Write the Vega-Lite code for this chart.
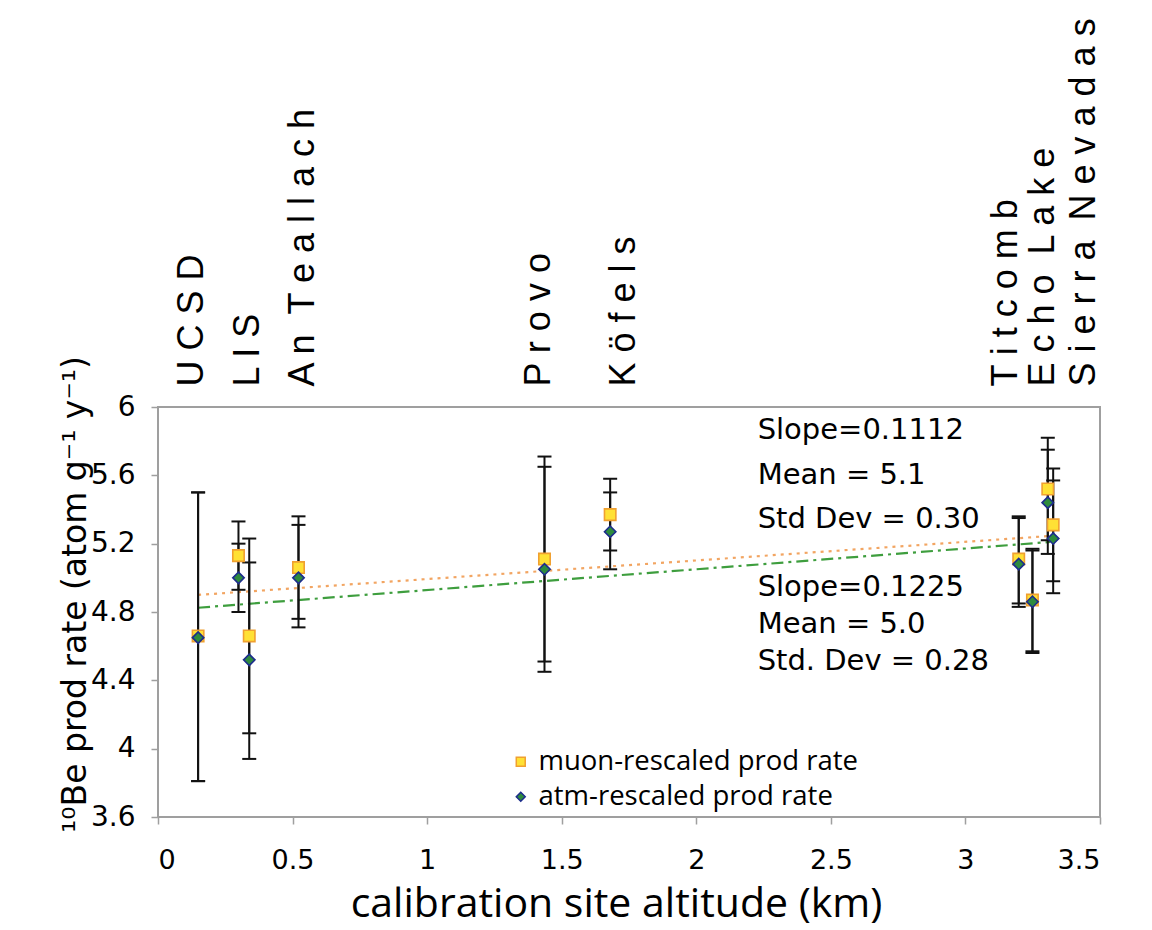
{
  "$schema": "https://vega.github.io/schema/vega-lite/v6.json",
  "width": 942,
  "height": 410,
  "autosize": "none",
  "padding": {"left": 158, "top": 407, "right": 52, "bottom": 113},
  "background": "white",
  "config": {
    "view": {"stroke": "#9f9f9f", "strokeWidth": 2},
    "axis": {
      "domain": false,
      "grid": false,
      "tickColor": "#9f9f9f",
      "tickWidth": 1.5,
      "tickSize": 7,
      "labelColor": "black",
      "titleColor": "black",
      "labelFont": "DejaVu Sans",
      "labelFontSize": 27,
      "titleFontWeight": "normal"
    },
    "legend": {
      "orient": "none",
      "legendX": 349,
      "legendY": 341,
      "labelFontSize": 27.5,
      "labelFont": "Open Sans",
      "labelColor": "black",
      "labelLimit": 0,
      "symbolSize": 80,
      "labelOffset": 4,
      "rowPadding": 6,
      "symbolStrokeWidth": 1.5
    }
  },
  "datasets": {
    "points": [
      {"site": "UCSD", "alt": 0.149, "series": "muon-rescaled prod rate", "value": 4.66, "lo": 3.81, "hi": 5.5},
      {"site": "LIS", "alt": 0.299, "series": "muon-rescaled prod rate", "value": 5.13, "lo": 4.93, "hi": 5.33},
      {"site": "LIS", "alt": 0.339, "series": "muon-rescaled prod rate", "value": 4.66, "lo": 4.09, "hi": 5.23},
      {"site": "An Teallach", "alt": 0.522, "series": "muon-rescaled prod rate", "value": 5.06, "lo": 4.76, "hi": 5.36},
      {"site": "Provo", "alt": 1.436, "series": "muon-rescaled prod rate", "value": 5.11, "lo": 4.51, "hi": 5.71},
      {"site": "Köfels", "alt": 1.68, "series": "muon-rescaled prod rate", "value": 5.37, "lo": 5.16, "hi": 5.58},
      {"site": "Titcomb", "alt": 3.198, "series": "muon-rescaled prod rate", "value": 5.11, "lo": 4.85, "hi": 5.36},
      {"site": "Echo Lake", "alt": 3.249, "series": "muon-rescaled prod rate", "value": 4.87, "lo": 4.57, "hi": 5.17},
      {"site": "Sierra Nevadas", "alt": 3.306, "series": "muon-rescaled prod rate", "value": 5.52, "lo": 5.22, "hi": 5.82},
      {"site": "Sierra Nevadas", "alt": 3.326, "series": "muon-rescaled prod rate", "value": 5.31, "lo": 4.98, "hi": 5.64},
      {"site": "UCSD", "alt": 0.149, "series": "atm-rescaled prod rate", "value": 4.65, "lo": 3.81, "hi": 5.5},
      {"site": "LIS", "alt": 0.299, "series": "atm-rescaled prod rate", "value": 5.0, "lo": 4.8, "hi": 5.2},
      {"site": "LIS", "alt": 0.339, "series": "atm-rescaled prod rate", "value": 4.52, "lo": 3.94, "hi": 5.09},
      {"site": "An Teallach", "alt": 0.522, "series": "atm-rescaled prod rate", "value": 5.0, "lo": 4.71, "hi": 5.31},
      {"site": "Provo", "alt": 1.436, "series": "atm-rescaled prod rate", "value": 5.05, "lo": 4.45, "hi": 5.65},
      {"site": "Köfels", "alt": 1.68, "series": "atm-rescaled prod rate", "value": 5.27, "lo": 5.05, "hi": 5.5},
      {"site": "Titcomb", "alt": 3.198, "series": "atm-rescaled prod rate", "value": 5.08, "lo": 4.83, "hi": 5.35},
      {"site": "Echo Lake", "alt": 3.249, "series": "atm-rescaled prod rate", "value": 4.86, "lo": 4.56, "hi": 5.16},
      {"site": "Sierra Nevadas", "alt": 3.306, "series": "atm-rescaled prod rate", "value": 5.44, "lo": 5.14, "hi": 5.75},
      {"site": "Sierra Nevadas", "alt": 3.326, "series": "atm-rescaled prod rate", "value": 5.23, "lo": 4.91, "hi": 5.57}
    ],
    "fits": [
      {"fit": "muon", "alt": 0.149, "value": 4.9},
      {"fit": "muon", "alt": 3.315, "value": 5.245},
      {"fit": "atm", "alt": 0.149, "value": 4.825},
      {"fit": "atm", "alt": 3.315, "value": 5.21}
    ],
    "sites": [
      {"label": "U C S D", "alt": 0.125},
      {"label": "L I S", "alt": 0.336},
      {"label": "A n \u00a0T e a l l a c h", "alt": 0.537},
      {"label": "P r o v o", "alt": 1.416},
      {"label": "K ö f e l s", "alt": 1.732},
      {"label": "T i t c o m b", "alt": 3.152},
      {"label": "E c h o \u00a0L a k e", "alt": 3.29},
      {"label": "S i e r r a \u00a0N e v a d a s", "alt": 3.439}
    ],
    "stats": [
      {"group": "muon", "alt": 2.228, "value": 5.81, "lines": ["Slope=0.1112", "Mean = 5.1", "Std Dev = 0.30"]},
      {"group": "atm", "alt": 2.228, "value": 4.892, "lines": ["Slope=0.1225", "Mean = 5.0", "Std. Dev = 0.28"]}
    ]
  },
  "layer": [
    {
      "data": {"name": "fits"},
      "transform": [{"filter": "datum.fit === 'muon'"}],
      "mark": {"type": "line", "color": "#F2A562", "strokeWidth": 2.2, "strokeDash": [3, 5]},
      "encoding": {
        "x": {
          "field": "alt", "type": "quantitative",
          "scale": {"domain": [0, 3.5], "nice": false, "zero": false},
          "axis": {
            "values": [0, 0.5, 1, 1.5, 2, 2.5, 3, 3.5],
            "format": "~g",
            "labelBaseline": "alphabetic",
            "labelPadding": 44,
            "title": "calibration site altitude (km)",
            "titleFont": "Open Sans",
            "titleFontSize": 41,
            "titleBaseline": "alphabetic",
            "titleX": 458,
            "titleY": 99
          }
        },
        "y": {
          "field": "value", "type": "quantitative",
          "scale": {"domain": [3.6, 6], "nice": false, "zero": false},
          "axis": {
            "values": [3.6, 4, 4.4, 4.8, 5.2, 5.6, 6],
            "format": "~g",
            "labelFontSize": 28,
            "labelPadding": 16,
            "title": "¹⁰Be prod rate (atom g⁻¹ y⁻¹)",
            "titleFont": "DejaVu Sans",
            "titleFontSize": 33,
            "titleBaseline": "bottom",
            "titleX": -66,
            "titleY": 187
          }
        }
      }
    },
    {
      "data": {"name": "fits"},
      "transform": [{"filter": "datum.fit === 'atm'"}],
      "mark": {"type": "line", "color": "#3E9E3E", "strokeWidth": 2.2, "strokeDash": [12, 5, 3, 5]},
      "encoding": {
        "x": {"field": "alt", "type": "quantitative"},
        "y": {"field": "value", "type": "quantitative"}
      }
    },
    {
      "data": {"name": "points"},
      "mark": {"type": "rule", "color": "#111111", "strokeWidth": 2},
      "encoding": {
        "x": {"field": "alt", "type": "quantitative"},
        "y": {"field": "lo", "type": "quantitative"},
        "y2": {"field": "hi"}
      }
    },
    {
      "data": {"name": "points"},
      "mark": {"type": "tick", "color": "#111111", "orient": "horizontal", "size": 14, "thickness": 2, "opacity": 1},
      "encoding": {
        "x": {"field": "alt", "type": "quantitative"},
        "y": {"field": "lo", "type": "quantitative"}
      }
    },
    {
      "data": {"name": "points"},
      "mark": {"type": "tick", "color": "#111111", "orient": "horizontal", "size": 14, "thickness": 2, "opacity": 1},
      "encoding": {
        "x": {"field": "alt", "type": "quantitative"},
        "y": {"field": "hi", "type": "quantitative"}
      }
    },
    {
      "data": {"name": "points"},
      "mark": {"type": "point", "filled": true, "opacity": 1, "strokeWidth": 1.6},
      "encoding": {
        "x": {"field": "alt", "type": "quantitative"},
        "y": {"field": "value", "type": "quantitative"},
        "shape": {
          "field": "series", "type": "nominal", "title": null,
          "scale": {"domain": ["muon-rescaled prod rate", "atm-rescaled prod rate"], "range": ["square", "diamond"]}
        },
        "fill": {
          "field": "series", "type": "nominal", "title": null,
          "scale": {"domain": ["muon-rescaled prod rate", "atm-rescaled prod rate"], "range": ["#FFE135", "#2E8B3E"]}
        },
        "stroke": {
          "field": "series", "type": "nominal", "title": null,
          "scale": {"domain": ["muon-rescaled prod rate", "atm-rescaled prod rate"], "range": ["#F0A030", "#1C2C8C"]}
        },
        "size": {"value": 130}
      }
    },
    {
      "data": {"name": "stats"},
      "transform": [{"filter": "datum.group === 'muon'"}],
      "mark": {"type": "text", "font": "DejaVu Sans", "fontSize": 29, "align": "left", "baseline": "alphabetic", "lineHeight": 44.5, "color": "black"},
      "encoding": {
        "x": {"field": "alt", "type": "quantitative"},
        "y": {"field": "value", "type": "quantitative"},
        "text": {"field": "lines"}
      }
    },
    {
      "data": {"name": "stats"},
      "transform": [{"filter": "datum.group === 'atm'"}],
      "mark": {"type": "text", "font": "DejaVu Sans", "fontSize": 29, "align": "left", "baseline": "alphabetic", "lineHeight": 37, "color": "black"},
      "encoding": {
        "x": {"field": "alt", "type": "quantitative"},
        "y": {"field": "value", "type": "quantitative"},
        "text": {"field": "lines"}
      }
    },
    {
      "data": {"name": "sites"},
      "mark": {"type": "text", "font": "Liberation Sans", "fontSize": 36, "angle": 270, "align": "left", "baseline": "middle", "color": "black", "clip": false},
      "encoding": {
        "x": {"field": "alt", "type": "quantitative"},
        "y": {"datum": 6.12, "type": "quantitative"},
        "text": {"field": "label"}
      }
    }
  ]
}
